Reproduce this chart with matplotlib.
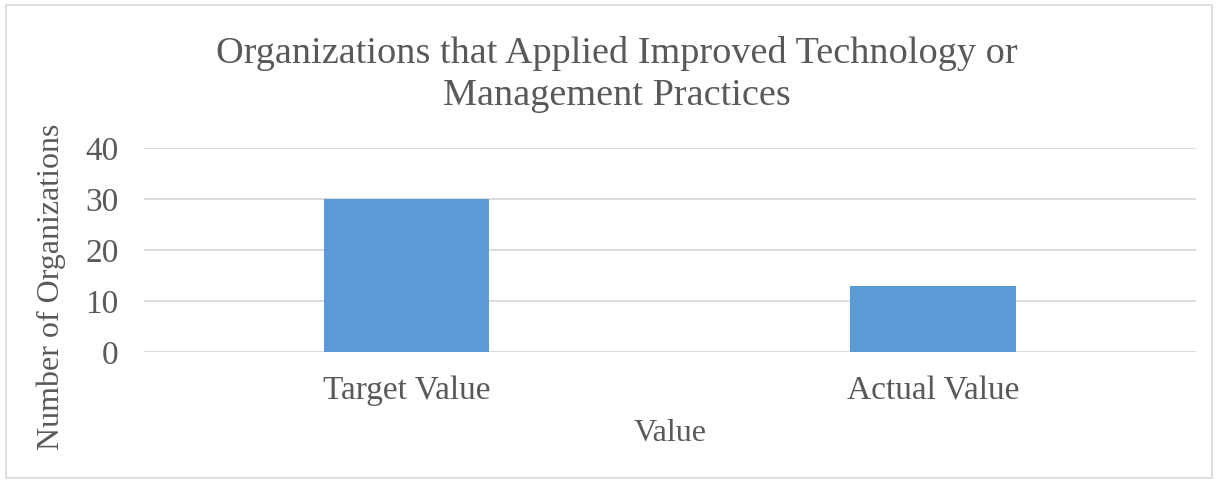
import matplotlib.pyplot as plt
from matplotlib.patches import Rectangle

# data
categories = ["Target Value", "Actual Value"]
values = [30, 13]
yticks = [0, 10, 20, 30, 40]

text_color = "#595959"
plt.rcParams['font.family'] = ['Liberation Serif', 'DejaVu Serif']

fig = plt.figure(figsize=(12.18, 4.8), dpi=100)
ax = fig.add_axes([0.118, 0.2667, 0.864, 0.425])

ax.bar(range(len(categories)), values, width=0.314, color="#5b9bd5", zorder=3)

ax.set_xlim(-0.5, len(categories) - 0.5)
ax.set_ylim(0, 40)
ax.set_yticks(yticks)
ax.set_xticks(range(len(categories)))
ax.set_xticklabels(categories)

ax.grid(axis='y', color="#d9d9d9", linewidth=1.3, zorder=0)
for s in ax.spines.values():
    s.set_visible(False)
ax.tick_params(length=0, labelsize=24, colors=text_color)
ax.tick_params(axis='y', pad=18)
ax.tick_params(axis='x', pad=17)

ax.set_xlabel("Value", fontsize=23, color=text_color)
ax.set_ylabel("Number of Organizations", fontsize=23, color=text_color)
ax.yaxis.set_label_coords(-0.074, 0.32)
ax.xaxis.set_label_coords(0.5, -0.33)

fig.text(0.5066, 0.845, "Organizations that Applied Improved Technology or\nManagement Practices",
         ha='center', va='center', fontsize=27.5, color=text_color, linespacing=1.3)

# light border around the chart area
fig.patches.append(Rectangle((0.005, 0.004), 0.99, 0.986, transform=fig.transFigure,
                             fill=False, edgecolor="#d9d9d9", linewidth=1.2))

fig.savefig("out.png", dpi=100)
